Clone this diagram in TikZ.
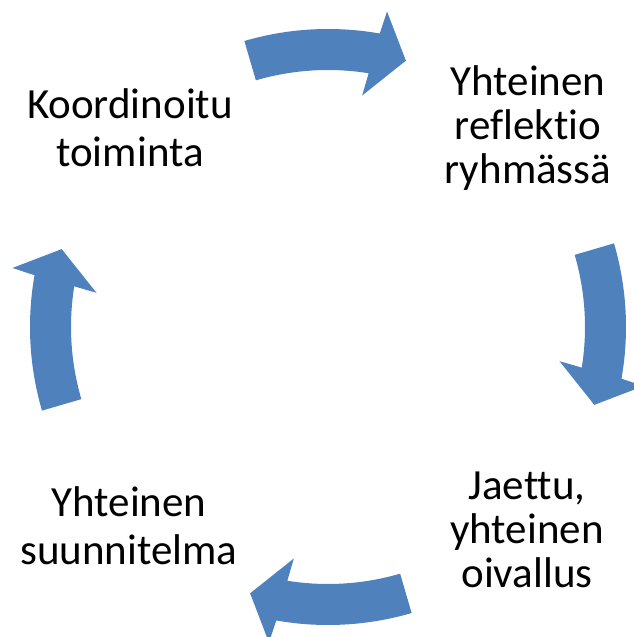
\documentclass[tikz,border=0pt]{standalone}
\usepackage{fontspec}
\setmainfont{Carlito}[Ligatures=NoCommon]
\definecolor{arrowblue}{HTML}{4F81BD}
\tikzset{
  lbl/.style={align=center, inner sep=0pt, text=black, font=\fontsize{43}{48}\selectfont},
  lblthree/.style={lbl, font=\fontsize{43}{44}\selectfont},
  cyclearrow/.style={fill=arrowblue, draw=none}
}
\newcommand{\cyclearr}[1]{%
  \fill[cyclearrow] ({#1+16.3}:298) arc[start angle={#1+16.3}, end angle={#1-10}, radius=298]
    -- ({#1-10.6}:321) -- ({#1-16.3}:277.5) -- ({#1-8.4}:234) -- ({#1-9.1}:257)
    arc[start angle={#1-9.1}, end angle={#1+16.3}, radius=257] -- cycle;}
\begin{document}
\begin{tikzpicture}[x=1pt,y=1pt]
\path[use as bounding box] (0,0) rectangle (634,637);
\clip (0,0) rectangle (634,637);
\coordinate (C) at (328,310);
\begin{scope}[shift={(C)}]
  \cyclearr{90}
  \cyclearr{0}
  \cyclearr{-90}
  \cyclearr{180}
\end{scope}
\node[lbl] (n1) at (130,509) {Koordinoitu\\toiminta};
\node[lblthree] (n2) at (528,509) {Yhteinen\\reflektio\\ryhmässä};
\node[lblthree] (n3) at (527,107) {Jaettu,\\yhteinen\\oivallus};
\node[lbl] (n4) at (129,111) {Yhteinen\\suunnitelma};
\end{tikzpicture}
\end{document}
